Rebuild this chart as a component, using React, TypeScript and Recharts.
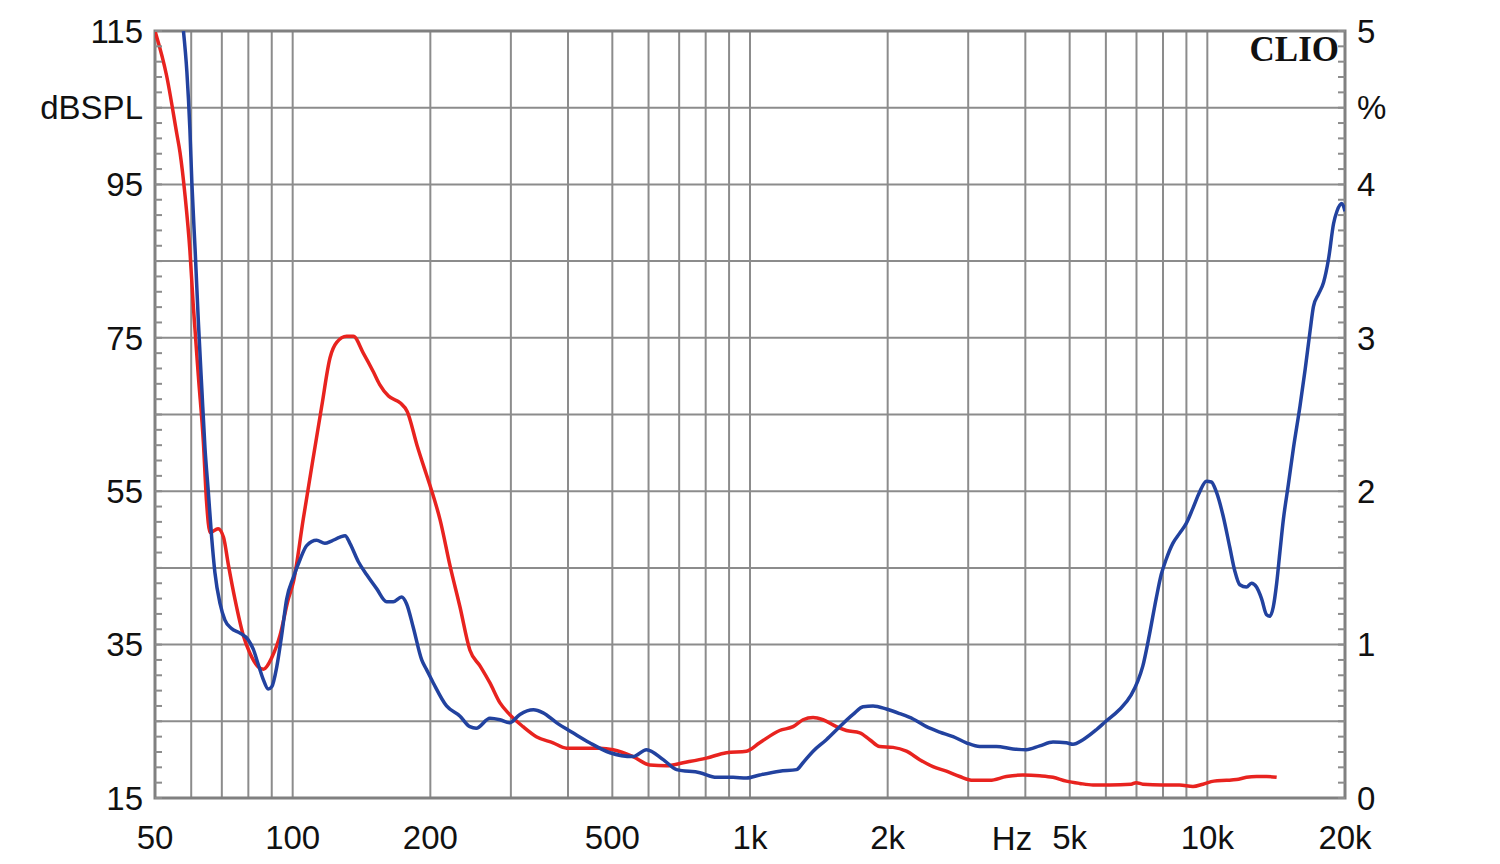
import { LineChart, Line, XAxis, YAxis, CartesianGrid, ReferenceArea } from 'recharts';

// red trace: frequency (Hz) and level (dB)
const redFreq = [
  50, 53, 55.8, 56.7, 58.2, 59.6, 60.6, 62.2, 63.8, 64.8, 66, 68.7, 70.6, 72.3, 74.8, 78, 80.6, 84.1, 86.3, 90,
  93.8, 97.8, 100.4, 105.5, 111, 115.7, 120.7, 124.8, 131.2, 135.7, 142.7, 150, 155, 162, 172, 178, 187, 196, 201, 210,
  221, 232, 244, 257, 270, 284, 298, 319, 341, 371, 397, 432, 470, 502, 555, 604, 657, 714, 803, 888,
  982, 1050, 1161, 1242, 1306, 1374, 1444, 1545, 1625, 1738, 1827, 1921, 2055, 2198, 2350, 2512, 2688, 2875, 3074, 3344,
  3635, 3953, 4300, 4598, 4916, 5259, 5623, 6117, 6811, 6988, 7226, 7982, 8695, 9302, 9786, 10337, 11010, 11578, 12180, 12810,
  13474, 14178,
];
const redLevel = [
  115, 109.2, 101.6, 99.2, 93.4, 86.4, 79.4, 70, 61.3, 53.7, 49.6, 50.1, 49, 45.5, 40.9, 36.2, 33.9, 32.1, 31.8, 33.3,
  36.2, 40.9, 43.2, 51.4, 59.5, 66, 72.4, 74.4, 75.2, 75.2, 73, 70.6, 68.9, 67.4, 66.5, 65.4, 61, 57.2, 55.2, 51.3,
  45.2, 40, 34.3, 32.2, 30, 27.4, 25.9, 24.3, 23, 22.2, 21.5, 21.5, 21.5, 21.3, 20.4, 19.3, 19.2, 19.6, 20.2, 20.9,
  21.1, 22.2, 23.8, 24.3, 25.2, 25.5, 25.2, 24.3, 23.8, 23.5, 22.6, 21.7, 21.6, 21.1, 20, 19.1, 18.5, 17.8, 17.3, 17.3,
  17.8, 18, 17.9, 17.7, 17.2, 16.9, 16.7, 16.7, 16.8, 17, 16.8, 16.7, 16.7, 16.5, 16.8, 17.2, 17.3, 17.4, 17.7, 17.8,
  17.8, 17.7,
];

// blue trace
const blueFreq = [
  57.7, 58.7, 59.6, 60.2, 61.2, 62.2, 63.3, 64.3, 65.4, 66.5, 67.6, 69.4, 71.1, 73.5, 76.7, 80, 82, 84.1, 86.3, 88.4,
  90, 92.3, 94.6, 97, 100.4, 103.8, 107.3, 112.8, 117.6, 121.6, 126.9, 130.2, 133.4, 139.2, 145.2, 152.6, 160.5, 166, 173, 177.5,
  183.6, 191.5, 196, 203, 217, 232, 244, 252, 270, 284, 298, 314, 336, 353, 378, 410, 446, 494, 555, 594,
  646, 691, 777, 845, 918, 982, 1050, 1161, 1264, 1306, 1374, 1469, 1571, 1680, 1767, 1858, 1987, 2125, 2273, 2431,
  2599, 2780, 2972, 3179, 3457, 3759, 4020, 4300, 4598, 4916, 5084, 5348, 5719, 6000, 6419, 6811, 7042, 7226, 7471, 7729,
  7926, 8126, 8405, 8695, 8994, 9302, 9620, 9950, 10205, 10466, 10825, 11196, 11483, 11776, 12180, 12490, 12810, 13138, 13474, 13703,
  13937, 14178, 14418, 14664, 15040, 15425, 15955, 16366, 16784, 17065, 17503, 17951, 18411, 18883, 19205, 19697, 20000,
];
const blueLevel = [
  115, 109.7, 102.2, 95.2, 86.4, 77.1, 68.3, 60.7, 54.9, 49, 44.4, 40.3, 38.2, 37.1, 36.5, 35.6, 34.4, 32.4, 30.4, 29.2,
  29.5, 32.1, 36.2, 40.9, 43.8, 46.1, 47.9, 48.6, 48.2, 48.5, 49, 49.2, 48.2, 45.8, 44.1, 42.3, 40.6, 40.6, 41.2, 40.3,
  37.2, 33, 31.8, 30, 27, 25.7, 24.3, 24.1, 25.4, 25.2, 24.8, 25.9, 26.5, 26.1, 24.8, 23.5, 22.2, 20.9, 20.4, 21.3,
  20, 18.7, 18.3, 17.7, 17.7, 17.6, 18, 18.5, 18.7, 19.6, 21.1, 22.6, 24.3, 25.9, 26.9, 27, 26.6, 26, 25.3, 24.3,
  23.6, 23, 22.2, 21.7, 21.7, 21.4, 21.3, 21.8, 22.3, 22.2, 22, 22.6, 23.9, 25, 26.5, 28.4, 30.2, 32.2, 36.3, 41,
  44.1, 46.1, 48.2, 49.5, 50.8, 52.8, 54.9, 56.3, 56.2, 54.9, 51.8, 47.7, 44.6, 42.8, 42.5, 43, 42.5, 41, 38.9, 38.7,
  39.9, 43, 47.2, 51.3, 55.9, 60.6, 66.2, 70.9, 76, 79.1, 80.7, 82.2, 85.3, 89.9, 91.5, 92.5, 91.5,
];

// axes
const gridFreqs = [
  50, 60, 70, 80, 90, 100, 200, 300, 400, 500, 600, 700, 800, 900, 1000,
  2000, 3000, 4000, 5000, 6000, 7000, 8000, 9000, 10000, 20000,
];
const freqLabels: Record<number, string> = {
  50: '50', 100: '100', 200: '200', 500: '500', 1000: '1k', 2000: '2k', 5000: '5k', 10000: '10k', 20000: '20k',
};
const levelGrid = [15, 25, 35, 45, 55, 65, 75, 85, 95, 105, 115];
const levelLabels = [15, 35, 55, 75, 95, 115];
const percentTicks = [0, 1, 2, 3, 4, 5];
const minorTicks = Array.from({ length: 51 }, (_, i) => 15 + i * 2);

const red = redFreq.map((f, i) => ({ f, v: redLevel[i] }));
const blue = blueFreq.map((f, i) => ({ f, v: blueLevel[i] }));

const FONT = '"Liberation Sans", Arial, sans-serif';
const FS = 33;
const tickStyle = { fontSize: FS, fill: '#111', fontFamily: FONT };
const GRID = '#8c8c8c';

export default function App() {
  return (
    <div style={{ position: 'absolute', left: 0, top: 0, width: 1500, height: 864, background: '#fff' }}>
      <LineChart width={1500} height={864} margin={{ top: 31, right: 0, bottom: 0, left: 0 }}>
        <CartesianGrid stroke={GRID} strokeWidth={2} />
        <XAxis
          dataKey="f"
          type="number"
          scale="log"
          domain={[50, 20000]}
          allowDataOverflow
          ticks={gridFreqs}
          interval={0}
          tickFormatter={(v: number) => freqLabels[v] ?? ''}
          tick={tickStyle}
          tickLine={false}
          axisLine={false}
          tickSize={0}
          tickMargin={28}
          height={66}
        />
        <YAxis
          type="number"
          domain={[15, 115]}
          allowDataOverflow
          ticks={levelGrid}
          interval={0}
          tickFormatter={(v: number) => (levelLabels.includes(v) ? String(v) : '')}
          tick={tickStyle}
          tickLine={false}
          axisLine={false}
          tickSize={0}
          tickMargin={12}
          width={155}
        />
        <YAxis
          yAxisId="pct"
          orientation="right"
          type="number"
          domain={[0, 5]}
          allowDataOverflow
          ticks={percentTicks}
          interval={0}
          tick={tickStyle}
          tickLine={false}
          axisLine={false}
          tickSize={0}
          tickMargin={12}
          width={155}
        />
        <YAxis
          yAxisId="minL"
          orientation="left"
          mirror
          type="number"
          domain={[15, 115]}
          allowDataOverflow
          ticks={minorTicks}
          interval={0}
          tickFormatter={() => ''}
          tickLine={{ stroke: GRID, strokeWidth: 2 }}
          tickSize={7}
          axisLine={false}
          width={1}
        />
        <YAxis
          yAxisId="minR"
          orientation="right"
          mirror
          type="number"
          domain={[15, 115]}
          allowDataOverflow
          ticks={minorTicks}
          interval={0}
          tickFormatter={() => ''}
          tickLine={{ stroke: GRID, strokeWidth: 2 }}
          tickSize={7}
          axisLine={false}
          width={1}
        />
        <Line data={red} dataKey="v" type="monotone" stroke="#e8231f" strokeWidth={3.5} dot={false} isAnimationActive={false} />
        <Line data={blue} dataKey="v" type="monotone" stroke="#22429f" strokeWidth={3.5} dot={false} isAnimationActive={false} />
        <ReferenceArea x1={50} x2={20000} y1={15} y2={115} fill="none" stroke="#808080" strokeWidth={3} ifOverflow="visible" />
      </LineChart>
      <svg width={1500} height={864} style={{ position: 'absolute', left: 0, top: 0, pointerEvents: 'none' }}>
        <text x={143} y={119} textAnchor="end" fontSize={FS} fontFamily={FONT} fill="#111">dBSPL</text>
        <text x={1357} y={119} textAnchor="start" fontSize={FS} fontFamily={FONT} fill="#111">%</text>
        <text x={1012} y={850} textAnchor="middle" fontSize={FS} fontFamily={FONT} fill="#111">Hz</text>
        <text x={1339} y={61} textAnchor="end" fontSize={35} fontWeight="bold" fontFamily='"Liberation Serif", serif' fill="#111">CLIO</text>
      </svg>
    </div>
  );
}
